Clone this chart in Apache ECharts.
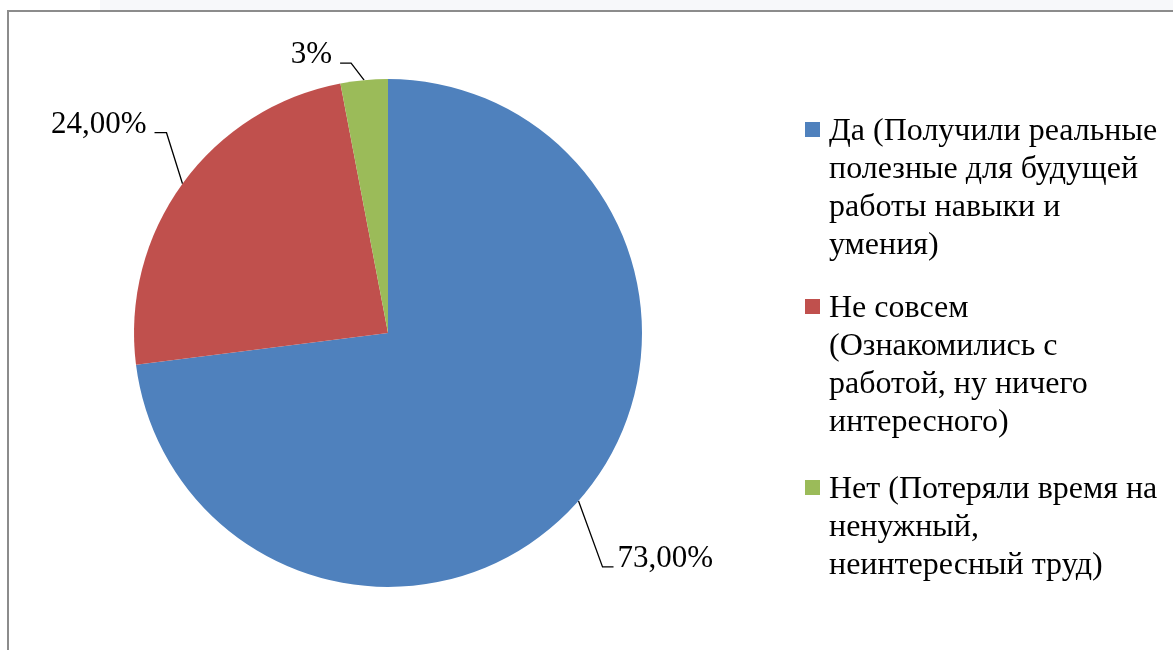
<!DOCTYPE html>
<html>
<head>
<meta charset="utf-8">
<script src="https://cdn.jsdelivr.net/npm/echarts@6/dist/echarts.min.js"></script>
<style>
html,body{margin:0;padding:0;width:1173px;height:650px;overflow:hidden;background:#fff;}
#strip{position:absolute;left:100px;top:0;width:1073px;height:10px;background:#f7f8fa;}
#frame{position:absolute;left:7px;top:10px;width:1200px;height:700px;border-left:2px solid #8c8c8c;border-top:2px solid #8c8c8c;background:#fff;}
#chart{position:absolute;left:0;top:0;width:1173px;height:650px;}
</style>
</head>
<body>
<div id="strip"></div>
<div id="frame"></div>
<div id="chart"></div>
<script>
var categories = [
  'Да (Получили реальные полезные для будущей работы навыки и умения)',
  'Не совсем (Ознакомились с работой, ну ничего интересного)',
  'Нет (Потеряли время на ненужный, неинтересный труд)'
];
var legendLines = [
  ['Да (Получили реальные', 'полезные для будущей', 'работы навыки и', 'умения)'],
  ['Не совсем', '(Ознакомились с', 'работой, ну ничего', 'интересного)'],
  ['Нет (Потеряли время на', 'ненужный,', 'неинтересный труд)']
];
var values = [73, 24, 3];
var valueLabels = ['73,00%', '24,00%', '3%'];
var colors = ['#4f81bd', '#c0504d', '#9bbb59'];
// leader line: elbow offset from slice edge (dx, dy), then horizontal run
var leaders = [[24, 66, 11], [-16, -51, -12], [-13, -17, -11]];

var chart = echarts.init(document.getElementById('chart'), null, {renderer: 'canvas'});
var FONT = 'Liberation Serif';
var LH = 38;
var legendFirstLineY = [132, 309, 490];

chart.setOption({
  animation: false,
  color: colors,
  textStyle: {fontFamily: FONT},
  graphic: categories.map(function (name, i) {
    return {
      type: 'group',
      left: 805,
      top: legendFirstLineY[i] - LH / 2,
      children: [
        {type: 'rect', shape: {x: 0, y: LH / 2 - 10, width: 15, height: 15}, style: {fill: colors[i]}},
        {type: 'text', x: 24, y: 0, style: {
          text: legendLines[i].join('\n'),
          fontFamily: FONT, fontSize: 32, lineHeight: LH,
          fill: '#000', verticalAlign: 'top', align: 'left'
        }}
      ]
    };
  }),
  series: [{
    type: 'pie',
    center: [388, 333],
    radius: 254,
    startAngle: 90,
    clockwise: true,
    avoidLabelOverlap: false,
    label: {
      show: true,
      position: 'outside',
      fontFamily: FONT,
      fontSize: 31,
      color: '#000'
    },
    labelLine: {show: true, length: 20, length2: 10, lineStyle: {color: '#000', width: 1.3}},
    labelLayout: function (p) {
      var pts = p.labelLinePoints;
      if (!pts) { return {}; }
      var s = pts[0];
      var L = leaders[p.dataIndex];
      var e = [s[0] + L[0], s[1] + L[1]];
      var t = [e[0] + L[2], e[1]];
      var right = L[2] > 0;
      return {
        x: t[0] + (right ? 4 : -8),
        y: e[1] - 8,
        align: right ? 'left' : 'right',
        verticalAlign: 'middle',
        labelLinePoints: [s, e, t]
      };
    },
    itemStyle: {borderWidth: 0},
    emphasis: {disabled: true},
    data: categories.map(function (n, i) {
      return {name: n, value: values[i], label: {formatter: valueLabels[i]}};
    })
  }]
});
</script>
</body>
</html>
